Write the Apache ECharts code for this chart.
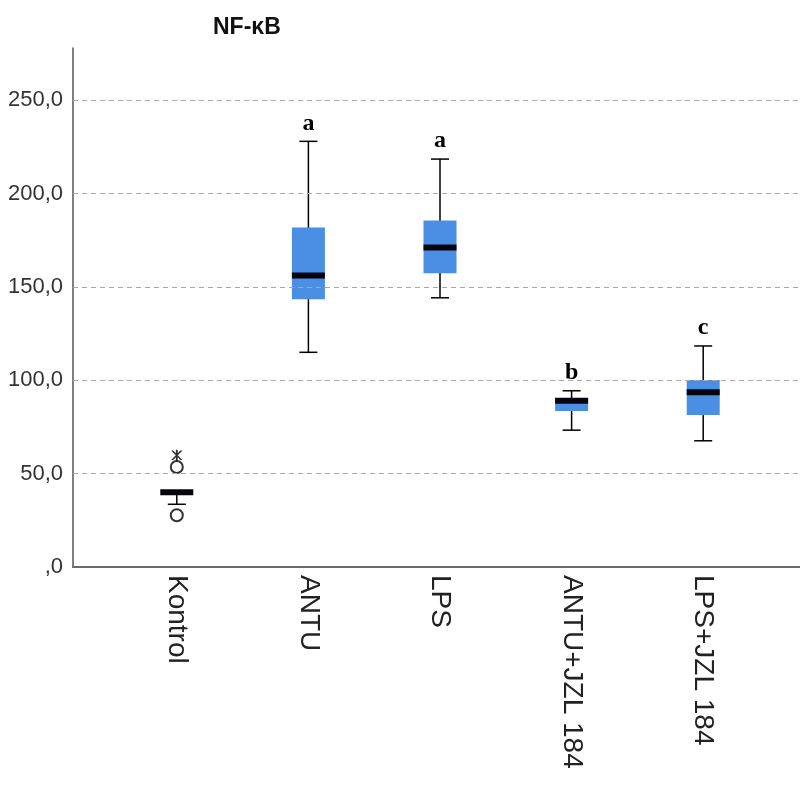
<!DOCTYPE html>
<html>
<head>
<meta charset="utf-8">
<script src="https://cdn.jsdelivr.net/npm/echarts@6/dist/echarts.min.js"></script>
<style>html,body{margin:0;padding:0;background:#fff}#c{width:800px;height:787px}</style>
</head>
<body>
<div id="c"></div>
<script>
var categories = ['Kontrol', 'ANTU', 'LPS', 'ANTU+JZL 184', 'LPS+JZL 184'];
var lowWhisker = [33.6, 115.0, 144.2, 73.3, 67.6];
var q1 = [40.0, 143.4, 157.4, 83.5, 81.4];
var median = [40.0, 156.1, 171.1, 89.1, 93.6];
var q3 = [40.0, 181.9, 185.6, 90.5, 100.2];
var highWhisker = [40.0, 228.0, 218.5, 94.4, 118.4];
var letters = ['', 'a', 'a', 'b', 'c'];
var outliers = [[0, 53.6], [0, 27.7]];
var extremes = [[0, 59.9]];
var yTicks = [0, 50, 100, 150, 200, 250];
var yTickLabels = [',0', '50,0', '100,0', '150,0', '200,0', '250,0'];
var gridValues = [50, 100, 150, 200, 250];
var yMax = 278;

var boxData = categories.map(function (c, i) {
  return [i, lowWhisker[i], q1[i], median[i], q3[i], highWhisker[i]];
});

var starPath = 'path://M9,0 L11,0 L11,20 L9,20 Z M4.13,1.84 L5.87,0.84 L15.87,18.16 L14.13,19.16 Z M14.13,0.84 L15.87,1.84 L5.87,19.16 L4.13,18.16 Z';

var chart = echarts.init(document.getElementById('c'), null, {renderer: 'canvas'});
var option = {
  animation: false,
  backgroundColor: '#ffffff',
  title: {
    text: 'NF-κB',
    left: 208,
    top: 11,
    textStyle: {fontFamily: 'Liberation Sans, Arial', fontSize: 23, fontWeight: 'bold', color: '#111'}
  },
  grid: [
    {left: 73, right: 0, top: 48, bottom: 220},
    {left: 111, right: 31, top: 48, bottom: 220}
  ],
  xAxis: [
    {
      type: 'value', gridIndex: 0, min: 0, max: 1,
      axisLine: {show: true, lineStyle: {color: '#6a6a6a', width: 2}},
      axisTick: {show: false}, axisLabel: {show: false}, splitLine: {show: false}
    },
    {
      type: 'category', gridIndex: 1, data: categories,
      axisLine: {show: false}, axisTick: {show: false}, splitLine: {show: false},
      axisLabel: {
        rotate: -90, margin: 8, fontSize: 28, color: '#222',
        fontFamily: 'Liberation Sans, Arial'
      }
    }
  ],
  yAxis: [
    {
      type: 'value', gridIndex: 0, min: 0, max: yMax, interval: 50,
      axisLine: {show: true, lineStyle: {color: '#555', width: 1.5}},
      axisTick: {show: false},
      splitLine: {show: false},
      axisLabel: {
        margin: 10, fontSize: 22, color: '#333', fontFamily: 'Liberation Sans, Arial',
        showMaxLabel: false,
        formatter: function (v) {
          var k = yTicks.indexOf(v);
          return k >= 0 ? yTickLabels[k] : '';
        }
      }
    },
    {type: 'value', gridIndex: 1, min: 0, max: yMax, show: false}
  ],
  series: [
    {
      type: 'line', xAxisIndex: 0, yAxisIndex: 0, data: [], silent: true,
      markLine: {
        silent: true, symbol: 'none', label: {show: false},
        lineStyle: {type: [5, 4], color: '#a8a8a8', width: 1},
        data: gridValues.map(function (v) { return {yAxis: v}; })
      }
    },
    {
      type: 'custom', xAxisIndex: 1, yAxisIndex: 1, data: boxData,
      encode: {x: 0, y: [1, 2, 3, 4, 5]},
      renderItem: function (params, api) {
        var i = api.value(0);
        var pLow = api.coord([i, api.value(1)]);
        var pQ1 = api.coord([i, api.value(2)]);
        var pMed = api.coord([i, api.value(3)]);
        var pQ3 = api.coord([i, api.value(4)]);
        var pHigh = api.coord([i, api.value(5)]);
        var x = pMed[0];
        var bw = 33, cw = 18;
        var black = {stroke: '#000', lineWidth: 1.5};
        var children = [
          {type: 'line', shape: {x1: x, y1: pLow[1], x2: x, y2: pHigh[1]}, style: black},
          {type: 'line', shape: {x1: x - cw / 2, y1: pLow[1], x2: x + cw / 2, y2: pLow[1]}, style: black},
          {type: 'line', shape: {x1: x - cw / 2, y1: pHigh[1], x2: x + cw / 2, y2: pHigh[1]}, style: black},
          {type: 'rect', shape: {x: x - bw / 2, y: pQ3[1], width: bw, height: pQ1[1] - pQ3[1]},
            style: {fill: '#4a8fe3'}},
          {type: 'line', shape: {x1: x - bw / 2, y1: pMed[1], x2: x + bw / 2, y2: pMed[1]},
            style: {stroke: '#05050f', lineWidth: 6}}
        ];
        var t = letters[params.dataIndex];
        if (t) {
          children.push({
            type: 'text',
            style: {
              text: t, x: x, y: pHigh[1] - 6, align: 'center', verticalAlign: 'bottom',
              font: 'bold 24px "Liberation Serif", "Times New Roman", serif', fill: '#000'
            }
          });
        }
        return {type: 'group', children: children};
      }
    },
    {
      type: 'scatter', xAxisIndex: 1, yAxisIndex: 1, data: outliers,
      symbol: 'emptyCircle', symbolSize: 12,
      itemStyle: {color: '#000', borderColor: '#000', borderWidth: 1.5}
    },
    {
      type: 'scatter', xAxisIndex: 1, yAxisIndex: 1, data: extremes,
      symbol: starPath, symbolSize: 11,
      itemStyle: {color: '#000'}
    }
  ]
};
chart.setOption(option);
</script>
</body>
</html>
